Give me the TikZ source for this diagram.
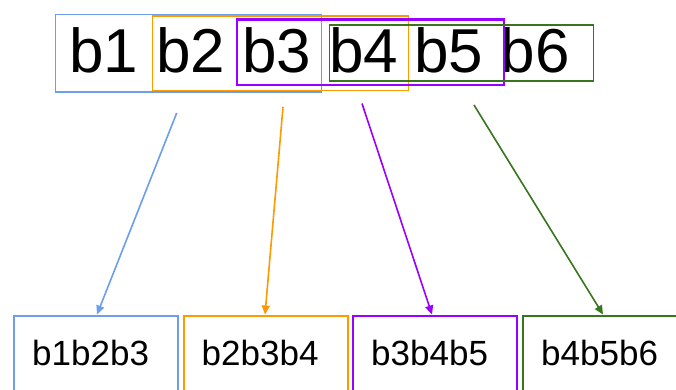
\documentclass[tikz,border=0pt]{standalone}
\usepackage{fontspec}
\setmainfont{Liberation Sans}
\usetikzlibrary{arrows.meta}

\definecolor{cblue}{HTML}{6D9EEB}
\definecolor{corange}{HTML}{FF9900}
\definecolor{cpurple}{HTML}{9900FF}
\definecolor{cgreen}{HTML}{38761D}

\tikzset{
  toklbl/.style={inner sep=0pt, anchor=base, font=\fontsize{62}{62}\selectfont},
  winbox/.style={line width=1.9pt},
  outbox/.style={draw, line width=2.2pt, minimum width=164pt, minimum height=90pt,
                 anchor=north west, inner sep=0pt},
  outtxt/.style={inner sep=0pt, anchor=base west, font=\fontsize{35}{35}\selectfont},
  arr/.style={line width=1.6pt, -{Triangle[length=9pt,width=8pt]}}
}

\begin{document}
\begin{tikzpicture}[x=1pt,y=-1pt]
  \useasboundingbox[fill=white] (0,0) rectangle (676,390);

  % input tokens
  \node[toklbl] (b1) at (104,73) {b1};
  \node[toklbl] (b2) at (191,73) {b2};
  \node[toklbl] (b3) at (277,73) {b3};
  \node[toklbl] (b4) at (364,73) {b4};
  \node[toklbl] (b5) at (449,73) {b5};
  \node[toklbl] (b6) at (535,73) {b6};

  % sliding windows of three tokens
  \draw[winbox, cblue]   (55.5,14.5) rectangle (321.5,92);
  \draw[winbox, corange] (152.5,16) rectangle (408.5,90.5);
  \draw[winbox, cpurple, line width=2.1pt] (237,19.5) rectangle (504,85);
  \draw[winbox, cgreen]  (329.5,25) rectangle (593.5,81);

  % output n-grams
  \node[outbox, draw=cblue]   (o1) at (13,314.5)  {};
  \node[outbox, draw=corange] (o2) at (182.5,314.5) {};
  \node[outbox, draw=cpurple] (o3) at (352,314.5) {};
  \node[outbox, draw=cgreen]  (o4) at (522,314.5) {};

  \node[outtxt] (t1) at ([xshift=19pt,yshift=-50.5pt]o1.north west) {b1b2b3};
  \node[outtxt] (t2) at ([xshift=19pt,yshift=-50.5pt]o2.north west) {b2b3b4};
  \node[outtxt] (t3) at ([xshift=19pt,yshift=-50.5pt]o3.north west) {b3b4b5};
  \node[outtxt] (t4) at ([xshift=19pt,yshift=-50.5pt]o4.north west) {b4b5b6};

  % arrows from each window down to its n-gram
  \coordinate (s1) at (176.7,113);
  \coordinate (s2) at (283,107);
  \coordinate (s3) at (362,103.5);
  \coordinate (s4) at (474,105);

  \draw[arr, cblue]   (s1) -- ([xshift=84pt]o1.north west);
  \draw[arr, corange] (s2) -- ([xshift=82.5pt]o2.north west);
  \draw[arr, cpurple] (s3) -- ([xshift=80pt]o3.north west);
  \draw[arr, cgreen]  (s4) -- ([xshift=81pt]o4.north west);
\end{tikzpicture}
\end{document}
